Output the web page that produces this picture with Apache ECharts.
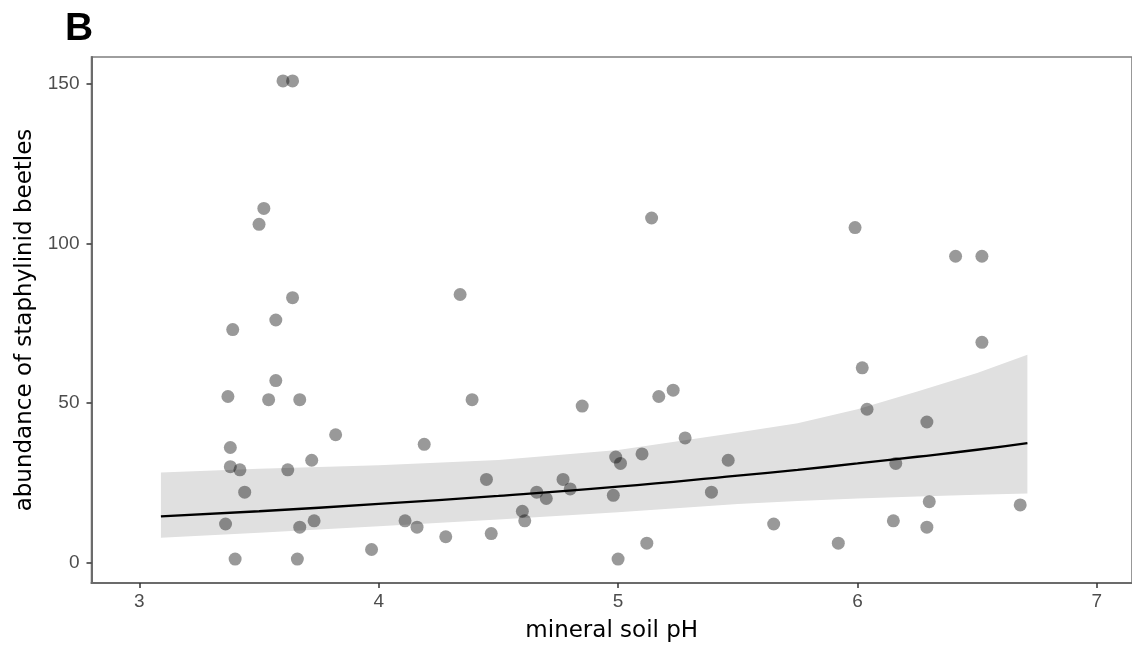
<!DOCTYPE html>
<html>
<head>
<meta charset="utf-8">
<script src="https://cdn.jsdelivr.net/npm/echarts@6/dist/echarts.min.js"></script>
<style>
  html, body { margin: 0; padding: 0; background: #fff; }
  #chart { width: 1132px; height: 653px; }
</style>
</head>
<body>
<div id="chart"></div>
<script>
// observations: mineral soil pH vs staphylinid abundance
var phValues = [
  3.60, 3.64, 3.52, 3.50, 3.64, 3.57, 3.39, 3.57, 3.37, 3.54, 3.67, 3.82,
  3.38, 3.72, 3.38, 3.42, 3.62, 3.44, 3.36, 3.73, 3.67, 3.97, 3.40, 3.66,
  5.14, 4.34, 4.39, 4.85, 5.17, 5.23, 4.19, 5.28, 4.99, 5.01, 5.10, 5.46,
  4.45, 4.77, 4.80, 4.66, 4.70, 4.98, 5.39, 4.60, 4.61, 4.11, 4.16, 4.28,
  4.47, 5.12, 5.00,
  5.99, 6.41, 6.52, 6.52, 6.02, 6.04, 6.29, 6.16, 6.30, 6.68, 5.65, 6.15,
  6.29, 5.92
];
var beetleCounts = [
  151, 151, 111, 106, 83, 76, 73, 57, 52, 51, 51, 40,
  36, 32, 30, 29, 29, 22, 12, 13, 11, 4, 1, 1,
  108, 84, 51, 49, 52, 54, 37, 39, 33, 31, 34, 32,
  26, 26, 23, 22, 20, 21, 22, 16, 13, 13, 11, 8,
  9, 6, 1,
  105, 96, 96, 69, 61, 48, 44, 31, 19, 18, 12, 13,
  11, 6
];

// fitted curve and confidence band
var fitX     = [3.09, 3.5, 4.0, 4.5, 5.0, 5.5, 5.75, 6.0, 6.25, 6.5, 6.71];
var fitY     = [14.4, 16.0, 18.3, 20.8, 23.7, 27.2, 29.0, 31.0, 33.1, 35.3, 37.4];
var fitLower = [7.7, 9.3, 11.3, 13.4, 15.7, 18.3, 19.2, 20.0, 20.6, 21.2, 21.6];
var fitUpper = [28.2, 29.3, 30.4, 32.1, 35.2, 40.7, 43.6, 48.0, 53.6, 59.4, 65.1];

var xTicks = [3, 4, 5, 6, 7];
var yTicks = [0, 50, 100, 150];

var chart = echarts.init(document.getElementById('chart'));

var points = phValues.map(function (x, i) { return [x, beetleCounts[i]]; });
var line = fitX.map(function (x, i) { return [x, fitY[i]]; });
var band = fitX.map(function (x, i) { return [x, fitLower[i], fitUpper[i]]; });

function drawBand(params, api) {
  if (params.dataIndex !== 0) return;
  var pts = [];
  for (var i = 0; i < band.length; i++) pts.push(api.coord([band[i][0], band[i][2]]));
  for (var j = band.length - 1; j >= 0; j--) pts.push(api.coord([band[j][0], band[j][1]]));
  return {
    type: 'polygon',
    shape: { points: pts },
    style: { fill: '#e0e0e0' }
  };
}

var tickFont = { fontFamily: 'Liberation Sans', fontSize: 19, color: '#4d4d4d' };

chart.setOption({
  animation: false,
  title: {
    text: 'B',
    left: 60,
    top: 5,
    textStyle: { fontFamily: 'Liberation Sans', fontWeight: 'bold', fontSize: 39, color: '#000' }
  },
  grid: {
    left: 91.5,
    right: 0,
    top: 57,
    bottom: 70,
    show: true,
    borderColor: '#7f7f7f',
    borderWidth: 1.6,
    backgroundColor: '#fff'
  },
  xAxis: {
    type: 'value',
    min: 2.8,
    max: 7.147,   // panel is cut off at the right edge of the figure
    name: 'mineral soil pH',
    nameLocation: 'middle',
    nameGap: 37,
    nameTextStyle: { fontFamily: 'DejaVu Sans', fontSize: 23, color: '#000' },
    splitLine: { show: false },
    axisLine: { show: true, onZero: false, lineStyle: { color: '#6b6b6b', width: 2 } },
    axisTick: { show: true, length: 5, customValues: xTicks, lineStyle: { color: '#333', width: 1.5 } },
    axisLabel: Object.assign({ margin: 9, customValues: xTicks }, tickFont)
  },
  yAxis: {
    type: 'value',
    min: -6.5,
    max: 158.5,
    name: 'abundance of staphylinid beetles',
    nameLocation: 'middle',
    nameGap: 50,
    nameRotate: 90,
    nameTextStyle: { fontFamily: 'DejaVu Sans', fontSize: 23, color: '#000' },
    splitLine: { show: false },
    axisLine: { show: true, onZero: false, lineStyle: { color: '#6b6b6b', width: 2 } },
    axisTick: { show: true, length: 5, customValues: yTicks, lineStyle: { color: '#333', width: 1.5 } },
    axisLabel: Object.assign({ margin: 12, customValues: yTicks }, tickFont)
  },
  series: [
    {
      type: 'custom',
      renderItem: drawBand,
      data: band,
      encode: { x: 0, y: [1, 2] },
      z: 1,
      silent: true
    },
    {
      type: 'scatter',
      data: points,
      symbol: 'circle',
      symbolSize: 13,
      itemStyle: { color: 'rgba(0,0,0,0.5)' },
      z: 2
    },
    {
      type: 'line',
      data: line,
      symbol: 'none',
      smooth: true,
      lineStyle: { color: '#000', width: 2.3 },
      z: 3
    }
  ]
});
</script>
</body>
</html>
